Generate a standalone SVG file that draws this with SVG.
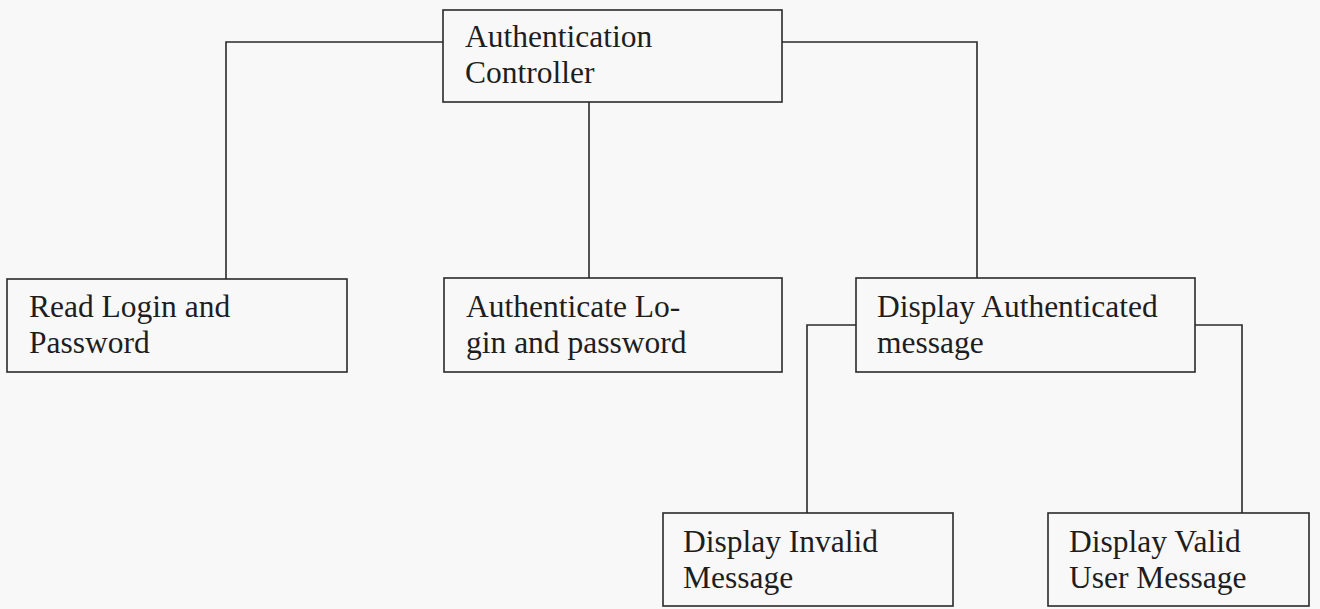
<svg xmlns="http://www.w3.org/2000/svg" width="1320" height="609" viewBox="0 0 1320 609">
  <style>
    .box { fill: none; stroke: #2a2a2a; stroke-width: 1.6; }
    .wire { fill: none; stroke: #2a2a2a; stroke-width: 1.6; }
    .label { font-family: "Liberation Serif", "Times New Roman", serif; font-size: 31.5px; fill: #1e1e1e; }
  </style>
  <rect x="0" y="0" width="1320" height="609" fill="#f8f8f8"/>

  <!-- connectors -->
  <g id="connectors">
    <polyline class="wire" points="443,42 226,42 226,279"/>
    <polyline class="wire" points="782,42 977,42 977,278"/>
    <line class="wire" x1="589" y1="102" x2="589" y2="278"/>
    <polyline class="wire" points="856,325 807,325 807,513"/>
    <polyline class="wire" points="1195,325 1242,325 1242,513"/>
  </g>

  <g id="auth-controller">
    <rect class="box" x="443" y="10" width="339" height="92"/>
    <text class="label" x="465" y="47">Authentication</text>
    <text class="label" x="465" y="83">Controller</text>
  </g>

  <g id="read-login">
    <rect class="box" x="7" y="279" width="340" height="93"/>
    <text class="label" x="29" y="317">Read Login and</text>
    <text class="label" x="29" y="353">Password</text>
  </g>

  <g id="authenticate-login">
    <rect class="box" x="444" y="278" width="338" height="94"/>
    <text class="label" x="466" y="317">Authenticate Lo-</text>
    <text class="label" x="466" y="353">gin and password</text>
  </g>

  <g id="display-authenticated">
    <rect class="box" x="856" y="278" width="339" height="94"/>
    <text class="label" x="877" y="317">Display Authenticated</text>
    <text class="label" x="877" y="353">message</text>
  </g>

  <g id="display-invalid">
    <rect class="box" x="663" y="513" width="290" height="93"/>
    <text class="label" x="683" y="552">Display Invalid</text>
    <text class="label" x="683" y="588">Message</text>
  </g>

  <g id="display-valid">
    <rect class="box" x="1048" y="513" width="261" height="93"/>
    <text class="label" x="1069" y="552">Display Valid</text>
    <text class="label" x="1069" y="588">User Message</text>
  </g>
</svg>
